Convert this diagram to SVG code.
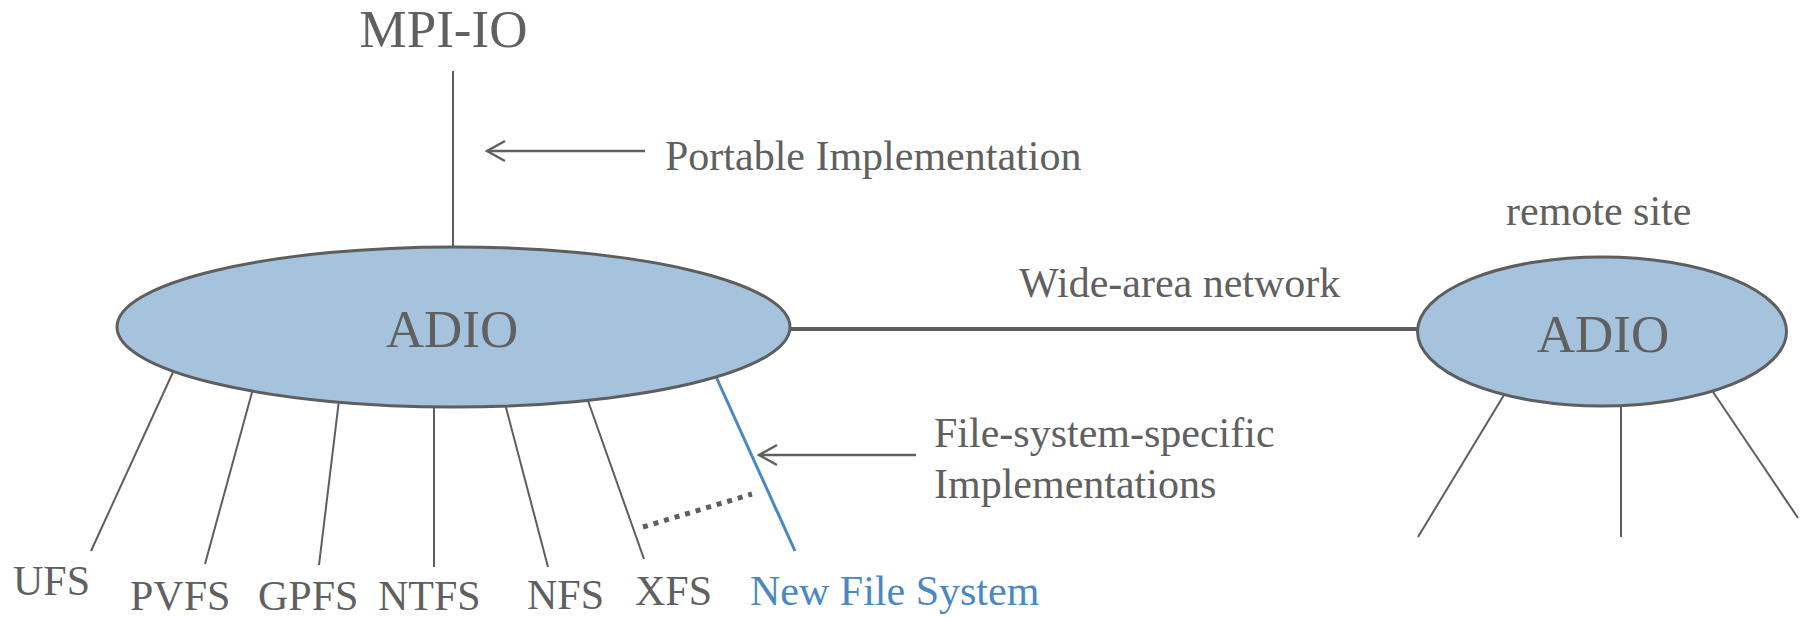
<svg xmlns="http://www.w3.org/2000/svg" width="1814" height="617" viewBox="0 0 1814 617">
  <style>
    .lbl { font-family: "Liberation Serif", "Times New Roman", serif; fill: #606060; }
    .big { font-size: 53px; }
    .mid { font-size: 42px; }
    .blue { fill: #4a88c2; }
    .node { fill: #a6c3dd; stroke: #5e5e5e; stroke-width: 3; }
    .spoke { stroke: #5e5e5e; stroke-width: 2; fill: none; }
    .ptr { stroke: #606060; stroke-width: 2.5; fill: none; }
  </style>
  <defs>
    <!-- open chevron head; tip sits on the line end -->
    <marker id="chev" viewBox="0 0 22 24" refX="20" refY="12" markerWidth="22" markerHeight="24" markerUnits="userSpaceOnUse" orient="auto">
      <path d="M2,2 L20,12 L2,22" fill="none" stroke="#606060" stroke-width="2.5"/>
    </marker>
  </defs>

  <rect width="1814" height="617" fill="#ffffff"/>

  <!-- connectors -->
  <g id="connectors">
    <!-- MPI-IO down to ADIO -->
    <line class="spoke" x1="453" y1="71" x2="453" y2="250" stroke-width="2.5"/>
    <!-- wide-area link -->
    <line x1="790" y1="329" x2="1419" y2="329" stroke="#5e5e5e" stroke-width="4"/>
    <!-- local file-system branches -->
    <line class="spoke" x1="174" y1="370" x2="91" y2="551"/>
    <line class="spoke" x1="254" y1="385" x2="205" y2="564"/>
    <line class="spoke" x1="339" y1="400" x2="319" y2="565"/>
    <line class="spoke" x1="434" y1="400" x2="434" y2="567"/>
    <line class="spoke" x1="504" y1="400" x2="548" y2="567"/>
    <line class="spoke" x1="587" y1="398" x2="644" y2="559"/>
    <line x1="713" y1="370" x2="795" y2="551" stroke="#4a88c2" stroke-width="3"/>
    <!-- more file systems to come -->
    <line x1="643" y1="527" x2="752" y2="494" stroke="#5e5e5e" stroke-width="5" stroke-dasharray="5 6"/>
    <!-- remote branches -->
    <line class="spoke" x1="1507" y1="390" x2="1418" y2="537"/>
    <line class="spoke" x1="1621" y1="400" x2="1621" y2="537"/>
    <line class="spoke" x1="1709" y1="386" x2="1798" y2="518"/>
    <!-- pointer arrows -->
    <line class="ptr" x1="645" y1="151" x2="487" y2="151" marker-end="url(#chev)"/>
    <line class="ptr" x1="916" y1="455" x2="759" y2="455" marker-end="url(#chev)"/>
  </g>

  <g id="mpi-io">
    <text class="lbl big" x="443.5" y="47" text-anchor="middle">MPI-IO</text>
  </g>

  <g id="portable-label">
    <text class="lbl mid" x="665" y="170">Portable Implementation</text>
  </g>

  <g id="adio-local">
    <ellipse class="node" cx="453.5" cy="327" rx="336.5" ry="80"/>
    <text class="lbl big" x="452" y="347" text-anchor="middle">ADIO</text>
  </g>

  <g id="wan-label">
    <text class="lbl mid" x="1019" y="297">Wide-area network</text>
  </g>

  <g id="adio-remote">
    <ellipse class="node" cx="1602" cy="331.5" rx="184.5" ry="74.5"/>
    <text class="lbl big" x="1603" y="352" text-anchor="middle">ADIO</text>
  </g>

  <g id="remote-label">
    <text class="lbl mid" x="1506" y="225">remote site</text>
  </g>

  <g id="fs-label">
    <text class="lbl mid" x="934" y="447">File-system-specific</text>
    <text class="lbl mid" x="934" y="498">Implementations</text>
  </g>

  <g id="fs-ufs"><text class="lbl mid" x="13" y="595">UFS</text></g>
  <g id="fs-pvfs"><text class="lbl mid" x="130" y="610">PVFS</text></g>
  <g id="fs-gpfs"><text class="lbl mid" x="258" y="610">GPFS</text></g>
  <g id="fs-ntfs"><text class="lbl mid" x="378" y="610">NTFS</text></g>
  <g id="fs-nfs"><text class="lbl mid" x="527" y="609">NFS</text></g>
  <g id="fs-xfs"><text class="lbl mid" x="635" y="605">XFS</text></g>
  <g id="fs-new"><text class="lbl mid blue" x="750" y="605">New File System</text></g>
</svg>
